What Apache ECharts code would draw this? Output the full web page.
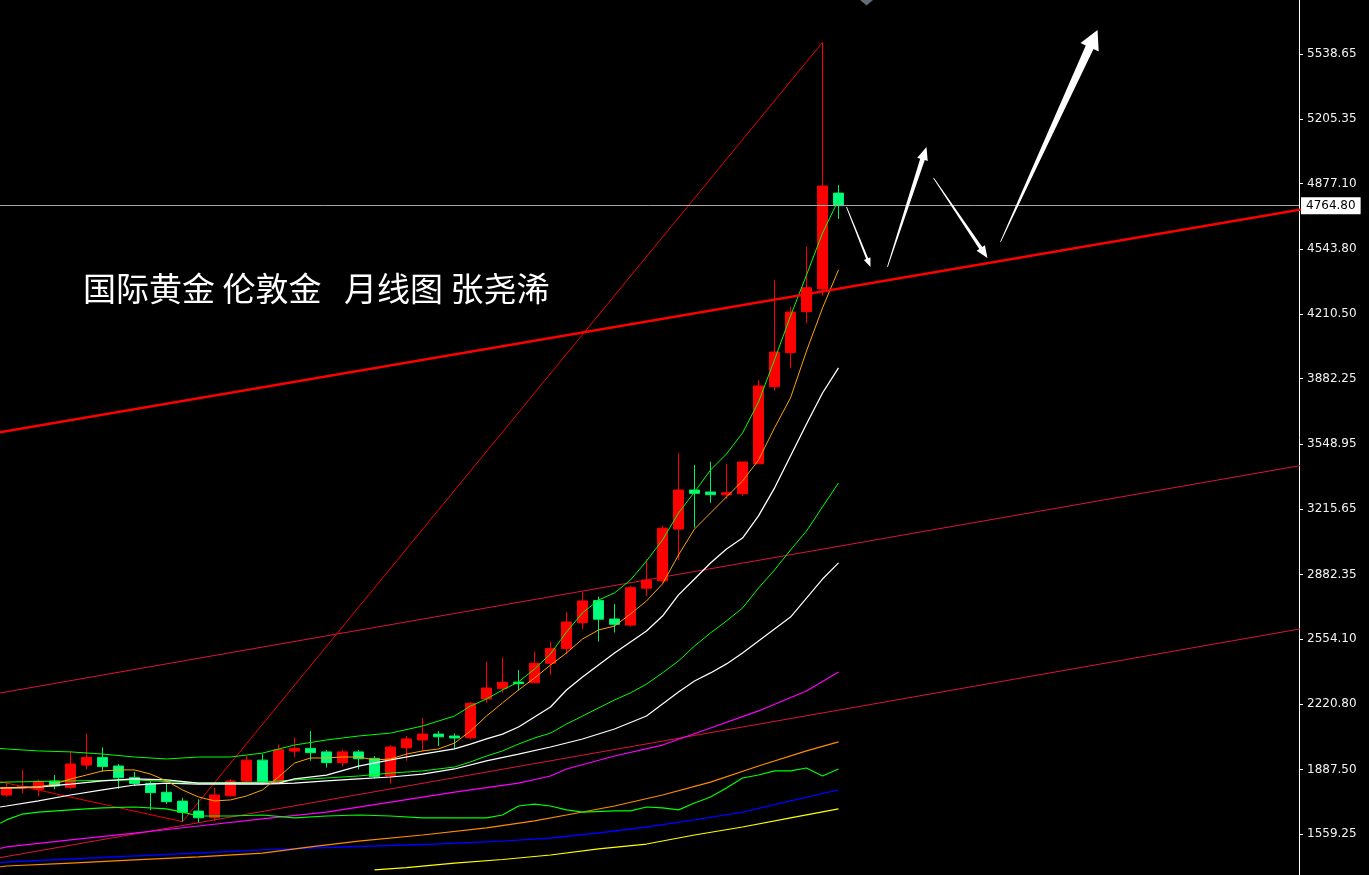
<!DOCTYPE html>
<html>
<head>
<meta charset="utf-8">
<script src="https://cdn.jsdelivr.net/npm/echarts@6/dist/echarts.min.js"></script>
<style>
html,body{margin:0;padding:0;background:#000;}
#c{width:1369px;height:875px;}
</style>
</head>
<body>
<div id="c"></div>
<script>
// ---------- categories (monthly) ----------
const MONTHS = ['2021-10','2021-11','2021-12','2022-01','2022-02','2022-03','2022-04','2022-05','2022-06','2022-07','2022-08','2022-09','2022-10','2022-11','2022-12',
'2023-01','2023-02','2023-03','2023-04','2023-05','2023-06','2023-07','2023-08','2023-09','2023-10','2023-11','2023-12',
'2024-01','2024-02','2024-03','2024-04','2024-05','2024-06','2024-07','2024-08','2024-09','2024-10','2024-11','2024-12',
'2025-01','2025-02','2025-03','2025-04','2025-05','2025-06','2025-07','2025-08','2025-09','2025-10','2025-11','2025-12',
'2026-01','2026-02'];

// ---------- OHLC ----------
const OPEN  = [1758,1795,1787,1829,1797,1911,1950,1906,1848,1817,1772,1727,1676,1642,1754,1829,1936,1822,1982,1996,1978,1923,1978,1945,1855,1999,2039,2069,2059,2050,2248,2302,2334,2331,2430,2505,2637,2750,2656,2625,2813,2851,3115,3314,3304,3290,3295,3448,3841,4015,4224,4340,4829];
const CLOSE = [1797,1800,1829,1804,1916,1950,1903,1846,1817,1770,1724,1670,1642,1758,1829,1936,1826,1989,1996,1974,1923,1978,1943,1852,2003,2044,2069,2055,2049,2225,2304,2333,2326,2430,2506,2641,2748,2655,2629,2816,2855,3119,3314,3297,3290,3300,3457,3845,4018,4222,4346,4865,4764.80];
const LOW   = [1750,1767,1753,1787,1788,1889,1877,1790,1804,1681,1712,1622,1619,1625,1750,1822,1812,1812,1953,1933,1898,1906,1889,1843,1816,1933,1979,2008,1992,2042,2229,2280,2291,2328,2370,2476,2605,2541,2587,2617,2773,2843,2957,3122,3249,3268,3284,3448,3821,3935,4165,4306,4697];
const HIGH  = [1826,1886,1838,1860,1982,2072,2001,1916,1877,1829,1814,1744,1736,1795,1839,1958,1967,2016,2052,2084,1988,1991,1988,1957,2013,2059,2151,2084,2072,2234,2438,2459,2396,2488,2541,2692,2795,2770,2733,2824,2961,3132,3504,3442,3459,3447,3457,3875,4385,4249,4556,5598,4870];
const LAST_PRICE = 4764.80;

// ---------- indicator lines: [candle index, price] (index -0.4 = value read at the left edge) ----------
const BOLL_UP = [[-0.4,1996],[0,1993],[2,1983],[4,1978],[6,1967],[8,1952],[10,1942],[12,1952],[14,1952],[16,1972],[18,2013],[20,2039],[22,2059],[24,2074],[26,2110],[28,2161],[29,2212],[30,2248],[31,2294],[32,2335],[33,2401],[34,2478],[35,2590],[36,2687],[37,2753],[38,2789],[39,2855],[40,2952],[41,3059],[42,3197],[43,3304],[44,3416],[45,3498],[46,3605],[47,3763],[48,3978],[49,4202],[50,4411],[51,4625],[52,4794]];
const BOLL_MID = [[-0.4,1822],[0,1824],[4,1830],[8,1835],[12,1819],[16,1824],[18,1835],[20,1845],[22,1855],[24,1870],[26,1881],[28,1901],[29,1927],[30,1957],[31,1983],[32,2018],[33,2049],[34,2074],[35,2120],[36,2161],[37,2202],[38,2243],[39,2279],[40,2324],[41,2381],[42,2442],[43,2518],[44,2585],[45,2646],[46,2712],[47,2814],[48,2906],[49,3008],[50,3105],[51,3228],[52,3350]];
const BOLL_LOW = [[-0.4,1614],[0,1631],[1,1661],[2,1671],[4,1682],[6,1692],[8,1697],[10,1687],[11,1671],[12,1651],[14,1651],[16,1656],[18,1641],[20,1651],[22,1656],[24,1651],[26,1641],[28,1641],[30,1641],[31,1656],[32,1702],[33,1712],[34,1702],[35,1682],[36,1671],[38,1677],[39,1677],[40,1697],[41,1692],[42,1682],[43,1717],[44,1748],[45,1794],[46,1845],[47,1860],[48,1881],[49,1881],[50,1896],[51,1855],[52,1891]];
const MA5 = [[-0.4,1794],[0,1794],[1,1794],[2,1799],[3,1814],[4,1840],[5,1860],[6,1881],[7,1886],[8,1886],[9,1865],[10,1830],[11,1784],[12,1748],[13,1728],[14,1733],[15,1753],[16,1784],[17,1850],[18,1921],[19,1947],[20,1947],[21,1952],[22,1952],[23,1937],[24,1942],[25,1967],[26,1983],[27,1993],[28,2023],[29,2085],[30,2161],[31,2228],[32,2294],[33,2355],[34,2421],[35,2483],[36,2554],[37,2600],[38,2620],[39,2682],[40,2748],[41,2835],[42,2983],[43,3115],[44,3197],[45,3279],[46,3360],[47,3467],[48,3631],[49,3784],[50,4023],[51,4243],[52,4437]];
const MA10 = [[-0.4,1793],[0,1794],[2,1799],[4,1814],[6,1830],[8,1840],[10,1835],[12,1819],[14,1819],[16,1819],[17,1819],[18,1840],[20,1860],[22,1906],[24,1937],[26,1967],[28,1993],[29,2018],[30,2044],[31,2069],[32,2105],[33,2156],[34,2207],[35,2294],[36,2360],[37,2421],[38,2483],[39,2539],[40,2595],[41,2671],[42,2779],[43,2860],[44,2942],[45,3013],[46,3069],[47,3182],[48,3324],[49,3488],[50,3651],[51,3809],[52,3937]];
const MA30 = [[-0.4,1697],[0,1702],[2,1728],[4,1758],[6,1784],[8,1809],[10,1819],[12,1814],[14,1814],[16,1814],[18,1819],[20,1830],[22,1840],[24,1850],[26,1865],[28,1891],[30,1932],[32,1967],[34,2003],[36,2044],[38,2095],[40,2161],[41,2222],[42,2284],[43,2340],[44,2381],[45,2427],[46,2483],[47,2544],[48,2605],[49,2666],[50,2763],[51,2860],[52,2942]];
const MA_MAGENTA = [[-0.4,1486],[0,1493],[4,1529],[8,1564],[12,1600],[16,1636],[20,1671],[24,1722],[28,1773],[32,1819],[34,1855],[35,1891],[38,1957],[41,2013],[44,2100],[47,2187],[50,2289],[52,2386]];
const MA_ORANGE = [[-0.4,1392],[0,1396],[4,1411],[8,1427],[12,1442],[16,1462],[19,1493],[22,1523],[26,1554],[30,1590],[33,1626],[35,1656],[38,1702],[41,1758],[44,1824],[47,1906],[50,1983],[52,2029]];
const MA_BLUE = [[-0.4,1413],[0,1416],[4,1432],[8,1447],[12,1462],[16,1478],[19,1488],[23,1498],[27,1508],[31,1523],[34,1539],[37,1564],[40,1595],[43,1631],[46,1671],[49,1728],[52,1784]];
const MA_YELLOW = [[23,1376],[25,1388],[28,1411],[31,1429],[34,1452],[37,1483],[40,1508],[43,1554],[46,1595],[49,1641],[52,1687]];

// ---------- drawn trend lines: [index, price] ----------
const TREND_MAIN  = [[-1,3601],[82,4760]];
const TREND_UPPER = [[-1,2270],[82,3455]];
const TREND_LOWER = [[-1,1430],[82,2622]];
const ZIGZAG = [[-1,1837],[11,LOW[11]],[51,HIGH[51]]];

// ---------- forecast arrows: [fromIndex, fromPrice, toIndex, toPrice] ----------
const ARROWS = [[52.5,4758,54,4452],[55.06,4452,57.5,5064],[57.94,4906,61.31,4498],[62.125,4580,68.19,5661]];
const MARKER = [[53.75,5814]];

// ---------- y axis tick labels ----------
const Y_TICKS = ['5538.65','5205.35','4877.10','4543.80','4210.50','3882.25','3548.95','3215.65','2882.35','2554.10','2220.80','1887.50','1559.25'];

const TITLE_PARTS = ['国际黄金 伦敦金', '月线图 张尧浠'];

// ---------- styles ----------
const ARROW_SIZES = [[7,9,2.2],[11,13,4.8],[10,12,3.6],[20,19,8.5]]; // headWidth, headLength, shaftWidth (px)
const TITLE_LEFT = [83, 344];

const chart = echarts.init(document.getElementById('c'), null, {renderer:'canvas'});

function lineSeries(data, color, width, z){
  return {type:'line', data, symbol:'none', showSymbol:false, silent:true, clip:true,
          lineStyle:{color, width}, z: z||3, animation:false};
}

const candleData = MONTHS.map((m,i)=>[i, OPEN[i], CLOSE[i], LOW[i], HIGH[i]]);

const option = {
  backgroundColor:'#000',
  animation:false,
  textStyle:{fontFamily:'DejaVu Sans'},
  title: TITLE_PARTS.map((t,k)=>({text:t, left:TITLE_LEFT[k], top:272, padding:0,
    textStyle:{color:'#ffffff', fontSize:33, fontWeight:'normal', fontFamily:'Noto Sans CJK SC', lineHeight:33}})),
  grid:{left:0, right:70, top:0, bottom:0},
  xAxis:{type:'value', min:-0.40625, max:80.78125, show:false},
  yAxis:{type:'value', position:'right', min:1350, max:5814, scale:true,
    axisLine:{show:true, onZero:false, lineStyle:{color:'#ffffff', width:1}},
    axisTick:{show:true, length:4, inside:false, lineStyle:{color:'#ffffff'}, customValues:Y_TICKS.map(Number)},
    axisLabel:{show:true, margin:8, color:'#f2f2f2', fontSize:12, fontFamily:'DejaVu Sans',
      customValues:Y_TICKS.map(Number), formatter:(v)=>Number(v).toFixed(2)},
    splitLine:{show:false}
  },
  series:[
    {type:'candlestick', data:candleData, barWidth:11, z:2,
      itemStyle:{color:'#ff0000', color0:'#00ff80', borderColor:'#ff0000', borderColor0:'#00f060', borderWidth:1},
      markLine:{symbol:'none', silent:true, animation:false,
        lineStyle:{color:'#a4a8ac', width:1, type:'solid'},
        label:{show:true, position:'end', distance:2, formatter:()=>LAST_PRICE.toFixed(2),
          backgroundColor:'#ffffff', color:'#000000', fontSize:12, fontFamily:'DejaVu Sans', padding:[3,5,2,5]},
        data:[{yAxis:LAST_PRICE}]}
    },
    lineSeries(TREND_LOWER,'#dc143c',1,2),
    lineSeries(TREND_UPPER,'#dc143c',1,2),
    lineSeries(ZIGZAG,'#ee0000',1,2),
    lineSeries(MA_YELLOW,'#ffff00',1.2),
    lineSeries(MA_BLUE,'#0000ff',1.4),
    lineSeries(MA_ORANGE,'#ff8c00',1.2),
    lineSeries(MA_MAGENTA,'#ff00ff',1.2),
    lineSeries(BOLL_LOW,'#00ff00',1.2),
    lineSeries(MA30,'#ffffff',1.2),
    lineSeries(BOLL_MID,'#00ff00',1),
    lineSeries(MA10,'#ffffff',1.3),
    lineSeries(MA5,'#ffa500',1),
    lineSeries(BOLL_UP,'#00ff00',1),
    lineSeries(TREND_MAIN,'#ff0000',2.5,4),
    {type:'custom', data:ARROWS, clip:false, z:6, silent:true,
      encode:{x:[0,2], y:[1,3]},
      renderItem:function(params, api){
        const p0 = api.coord([api.value(0), api.value(1)]);
        const p1 = api.coord([api.value(2), api.value(3)]);
        const s = ARROW_SIZES[params.dataIndex];
        const hw=s[0], hl=s[1], sw=s[2];
        const dx=p1[0]-p0[0], dy=p1[1]-p0[1];
        const L=Math.hypot(dx,dy); const ux=dx/L, uy=dy/L; const nx=-uy, ny=ux;
        const bx=p1[0]-ux*hl, by=p1[1]-uy*hl;
        const pts=[[p0[0]+nx*0.4,p0[1]+ny*0.4],[bx+nx*sw/2,by+ny*sw/2],[bx+nx*hw/2,by+ny*hw/2],
                   [p1[0],p1[1]],[bx-nx*hw/2,by-ny*hw/2],[bx-nx*sw/2,by-ny*sw/2],[p0[0]-nx*0.4,p0[1]-ny*0.4]];
        return {type:'polygon', shape:{points:pts}, style:{fill:'#ffffff'}};
      }
    },
    {type:'scatter', data:MARKER, symbol:'diamond', symbolSize:[13,11], clip:false, z:6, silent:true,
      itemStyle:{color:'#7a8896'}}
  ]
};
chart.setOption(option);
</script>
</body>
</html>
